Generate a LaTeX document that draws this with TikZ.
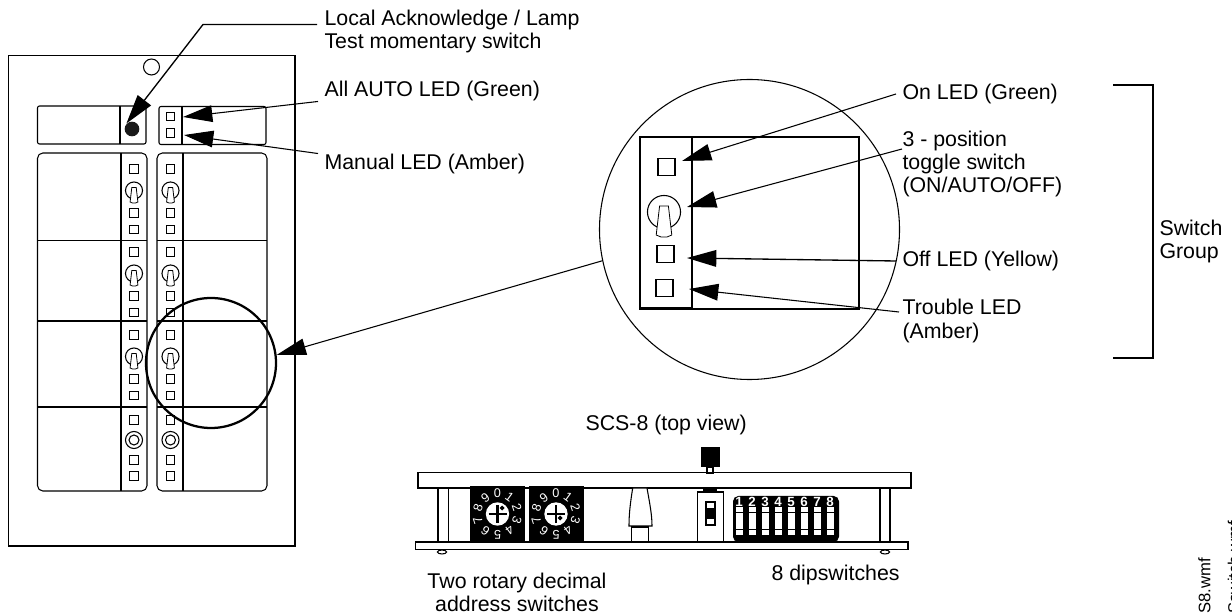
\documentclass[tikz,border=0pt]{standalone}
\usepackage{fontspec}
\setmainfont{Liberation Sans}
\usetikzlibrary{arrows.meta,positioning,shapes.geometric}
\begin{document}
\begin{tikzpicture}[x=0.75pt,y=-0.75pt,line width=0.8pt,every node/.style={node distance=12pt}]
    \tikzset{lab/.style={anchor=west,inner xsep=4.5pt,inner ysep=0pt,align=left,font=\fontsize{16}{17.4}\selectfont},
      led/.style={draw=black,fill=white,rectangle,minimum size=6.2pt,inner sep=0pt},
      bigled/.style={led,line width=1.3pt,minimum size=12.6pt},
      knob/.style={draw=black,circle,minimum size=12.8pt,inner sep=0pt},
      tip/.style={-{Triangle[length=22pt,width=12.5pt]},line width=0.8pt},
      digit/.style={text=white,inner sep=0pt,font=\fontsize{9.5}{9.5}\selectfont},
      dipnum/.style={text=white,inner sep=0pt,font=\fontsize{10}{10}\selectfont\bfseries},
      filename/.style={rotate=90,anchor=south west,inner sep=0pt,font=\fontsize{12.5}{12.5}\selectfont},
      lever/.pic={\draw[fill=white,line width=0.6pt] (-2.2,-3) -- (2.2,-3) -- (3.9,11.5) -- (1.5,12.5) -- (-1.5,12.5) -- (-3.9,11.5) -- cycle;}};
    \useasboundingbox (0,0) rectangle (1232,616);
    % front panel
    \draw (8.5,55.5) rectangle (295,546);
    \node[draw=black,circle,minimum size=12pt,inner sep=0pt] (sHole) at (151.5,67) {};
    \draw[rounded corners=1.5pt] (37.5,106) rectangle (146,144);
    \draw (120,106) -- (120,144);
    \node[circle,fill=black!90,minimum size=11pt,inner sep=0pt] (sDot) at (132,129) {};
    \draw[rounded corners=1.5pt] (159,106.5) rectangle (266,144.5);
    \draw (182,106.5) -- (182,144.5);
    \node[led] (sLedAuto) at (170.5,116.5) {};
    \node[led] (sLedMan) at (170.5,133) {};
    \draw[rounded corners=4pt] (37.5,153) rectangle (147,491);
    \draw[rounded corners=4pt] (157,153) rectangle (267,491);
    \draw (121,153) -- (121,491);
    \draw (183,153) -- (183,491);
    \foreach \hy in {240.5,321,407} {
      \draw (37.5,\hy) -- (147,\hy);
      \draw (157,\hy) -- (267,\hy);
    }
    % switch groups
    \foreach \cx/\cn in {134/L,170.5/R} {
      \foreach \gy/\gn in {169/a,252/b,335/c} {
        \node[led] (sTop\cn\gn) at (\cx,\gy) {};
        \node[knob] (sTog\cn\gn) at (\cx,\gy+21.5) {};
        \pic at (\cx,\gy+21.5) {lever};
        \node[led] (sMid\cn\gn) at (\cx,\gy+44) {};
        \node[led] (sLow\cn\gn) at (\cx,\gy+60.5) {};
      }
      \node[led] (sTop\cn d) at (\cx,420) {};
      \node[knob] (sRing\cn) at (\cx,440) {};
      \node[draw=black,circle,minimum size=7.5pt,inner sep=0pt] (sCore\cn) at (\cx,440) {};
      \node[led] (sMid\cn d) at (\cx,460) {};
      \node[led] (sLow\cn d) at (\cx,476) {};
    }
    \node[draw=black,circle,line width=1.7pt,minimum size=97.5pt,inner sep=0pt] (sZoom) at (211,363) {};
    % detail
    \node[draw=black,circle,minimum size=225pt,inner sep=0pt] (sDetail) at (749.5,229.5) {};
    \draw[line width=1.3pt] (640,137) rectangle (859,309);
    \draw[line width=1.3pt] (692,137) -- (692,309);
    \draw[line width=2.2pt] (640,308.5) -- (692,308.5);
    \node[bigled] (sOnLed) at (666.5,167) {};
    \node[draw=black,circle,minimum size=24.8pt,inner sep=0pt] (sBigTog) at (664,212) {};
    \pic[scale=2] at (664,212) {lever};
    \node[bigled] (sOffLed) at (665.5,254) {};
    \node[bigled] (sTrbLed) at (664.5,288) {};
    % labels
    \node[lab] (sLblLocal) at (318,31.5) {Local Acknowledge / Lamp\\Test momentary switch};
    \node[lab] (sLblAuto) at (318,91) {All AUTO LED (Green)};
    \node[lab] (sLblMan) at (318,164) {Manual LED (Amber)};
    \node[lab] (sLblOn) at (896,94) {On LED (Green)};
    \node[lab] (sLblTog) at (896,164) {3 - position\\toggle switch\\(ON/AUTO/OFF)};
    \node[lab] (sLblOff) at (896,261) {Off LED (Yellow)};
    \node[lab] (sLblTrb) at (896,321) {Trouble LED\\(Amber)};
    \node[lab] (sLblGroup) at (1153,241.5) {Switch\\Group};
    \node[lab] (sLblTop) at (579,425) {SCS-8 (top view)};
    \node[lab,align=center,anchor=center] (sLblRot) at (517,592.5) {Two rotary decimal\\address switches};
    \node[lab] (sLblDip) at (765,575) {8 dipswitches};
    \node[filename] (sFileA) at (1211,614) {S8.wmf};
    \node[filename] (sFileB) at (1240.5,614) {Sswitch.wmf};
    % bracket
    \coordinate (cBrA) at (1113,85);
    \coordinate (cBrB) at (1153,85);
    \coordinate (cBrC) at (1153,358);
    \coordinate (cBrD) at (1113,358);
    \draw (cBrA) -- (cBrB) -- (cBrC) -- (cBrD);
    % side view
    \draw (418,472.5) rectangle (911,488);
    \draw (415.5,542) rectangle (908,549.5);
    \draw (438,488) rectangle (448.5,542);
    \draw (880,488) rectangle (890,542);
    \node[draw=black,ellipse,minimum width=7pt,minimum height=3pt,inner sep=0pt] (sFootL) at (442,552) {};
    \node[draw=black,ellipse,minimum width=7pt,minimum height=3pt,inner sep=0pt] (sFootR) at (885,552) {};
    \foreach \rx/\mx/\my/\rn in {497.5/502/508/A,556/560/518/B} {
      \fill[black] (\rx-27.5,486) rectangle (\rx+27.5,541.5);
      \node[circle,fill=white,minimum size=17.5pt,inner sep=0pt] (sHub\rn) at (\rx,514) {};
      \foreach \d in {0,...,9} {
        \node[digit,rotate=-36*\d] (sDig\rn\d) at ([shift={(\d*36-90:20.5)}]\rx,514) {\d};
      }
      \draw[line width=1.6pt] (\rx-9,514) -- (\rx+9,514) (\rx,505) -- (\rx,523);
      \fill[black] (\mx-2.5,\my) -- (\mx,\my-2.5) -- (\mx+2.5,\my) -- (\mx,\my+2.5) -- cycle;
    }
    \draw[fill=white] (632.7,488) .. controls (630,505) and (629,515) .. (629,526) -- (652,526) .. controls (652,515) and (650,505) .. (647,488) -- cycle;
    \draw (631.5,527) rectangle (648.5,542);
    \fill[black] (700.5,447) rectangle (720,467);
    \draw (707,467) rectangle (713,473);
    \fill[black] (703,488) rectangle (717,492);
    \draw (697.5,492) rectangle (723.5,542);
    \draw (706,502) rectangle (715,525);
    \fill[black] (706,508) rectangle (715,519);
    \fill[black,rounded corners=4pt] (733,496) rectangle (839,542);
    \foreach \i in {1,...,8} {
      \node[dipnum] (sDipNum\i) at (726+13*\i,502) {\i};
      \fill[white] (722.5+13*\i,507) rectangle (729.5+13*\i,535);
      \draw[line width=0.4pt] (722.5+13*\i,512.7) -- (729.5+13*\i,512.7) (722.5+13*\i,529) -- (729.5+13*\i,529);
    }
    % leaders
    \coordinate (cLocalEnd) at (317,24.5);
    \coordinate (cLocalBend) at (203,24.5);
    \coordinate (cAutoTip) at (183,117);
    \coordinate (cManTip) at (184,135);
    \coordinate (cOnTip) at (682,161);
    \coordinate (cTogEnd) at (902,149);
    \coordinate (cTogTip) at (687,207);
    \coordinate (cOffTip) at (687,258);
    \coordinate (cTrbEnd) at (899,312);
    \coordinate (cTrbTip) at (689,289);
    \draw[tip,line width=1pt] (cLocalEnd) -- (cLocalBend) -- (sDot.north west);
    {
      \path[tip]
        (sLblAuto.south west) edge (cAutoTip)
        (sLblMan.north west) edge (cManTip)
        (sLblOn.west) edge (cOnTip)
        (cTogEnd) edge (cTogTip)
        (sLblOff.west) edge[line width=1pt] (cOffTip)
        (cTrbEnd) edge (cTrbTip)
        (sDetail.192.5) edge (sZoom.7)
        ;
      }
\end{tikzpicture}
\end{document}
